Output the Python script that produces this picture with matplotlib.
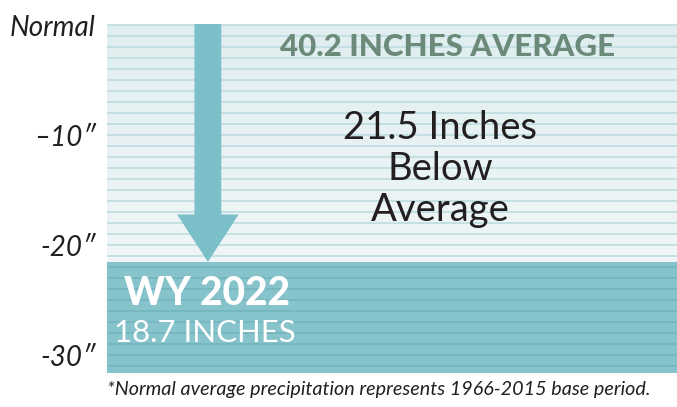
import numpy as np
import matplotlib as mpl
mpl.use('Agg')
from matplotlib import pyplot as plt
from matplotlib.patches import FancyArrow

# data
normal_avg = 40.2
wy2022_total = 18.7
deficit = -21.5
ytick_vals = [0, -10, -20, -30]
ytick_labels = ['Normal', '\u201310\u2033', '-20\u2033', '-30\u2033']

plt.rcParams['font.family'] = ['Lato', 'DejaVu Sans']

fig = plt.figure(figsize=(6.77, 4.07), dpi=100)
ax = fig.add_axes([107/677, 34/407, 570/677, 349/407])
ymin, ymax = -31.6, 0.1
ax.set_xlim(0, 1)
ax.set_ylim(ymin, ymax)

# upper region: light gradient with stripes
grad = np.linspace(0, 1, 256).reshape(-1, 1)
cm = mpl.colors.LinearSegmentedColormap.from_list('bg', ['#e0eef0', '#f0f6f7'])
ax.imshow(grad, extent=(0, 1, deficit, 0), origin='upper', aspect='auto', cmap=cm, zorder=0)
for yy in np.arange(0, deficit, -1.0):
    ax.axhline(yy, color='#c1dee2', lw=1.3, zorder=1)

# lower region: WY 2022 block
ax.axhspan(ymin, deficit, color='#86c3cb', lw=0, zorder=2)
for yy in np.arange(-22, ymin, -1.0):
    ax.axhline(yy, color='#74b5be', lw=1.2, zorder=3)

# arrow from normal down to the deficit
ax.add_patch(FancyArrow(0.177, ymax, 0, deficit - ymax, width=0.047,
                        head_width=0.108, head_length=4.3,
                        length_includes_head=True, color='#7bbfc8', lw=0, zorder=4))

ax.text(0.597, -2.0, f'{normal_avg} INCHES AVERAGE', ha='center', va='center',
        fontsize=22.5, fontweight='black', color='#6b8a7a', zorder=5)
ax.text(0.585, -13.1, f'{-deficit} Inches\nBelow\nAverage', ha='center', va='center',
        fontsize=27.5, color='#231f20', linespacing=1.17, zorder=5)
ax.text(0.175, -24.4, 'WY 2022', ha='center', va='center',
        fontsize=28, fontweight='black', color='white', zorder=5)
ax.text(0.172, -28.0, f'{wy2022_total} INCHES', ha='center', va='center',
        fontsize=22.4, color='white', zorder=5)

ax.set_yticks(ytick_vals)
ax.set_yticklabels(ytick_labels, fontsize=20, fontstyle='italic', color='#231f20')
ax.tick_params(axis='y', length=0, pad=8)
ax.set_xticks([])
for s in ax.spines.values():
    s.set_visible(False)

fig.text(107/677, 17/407, '*Normal average precipitation represents 1966-2015 base period.',
         ha='left', va='center', fontsize=14.2, fontstyle='italic', color='#231f20')

fig.savefig('out.png', dpi=100)
